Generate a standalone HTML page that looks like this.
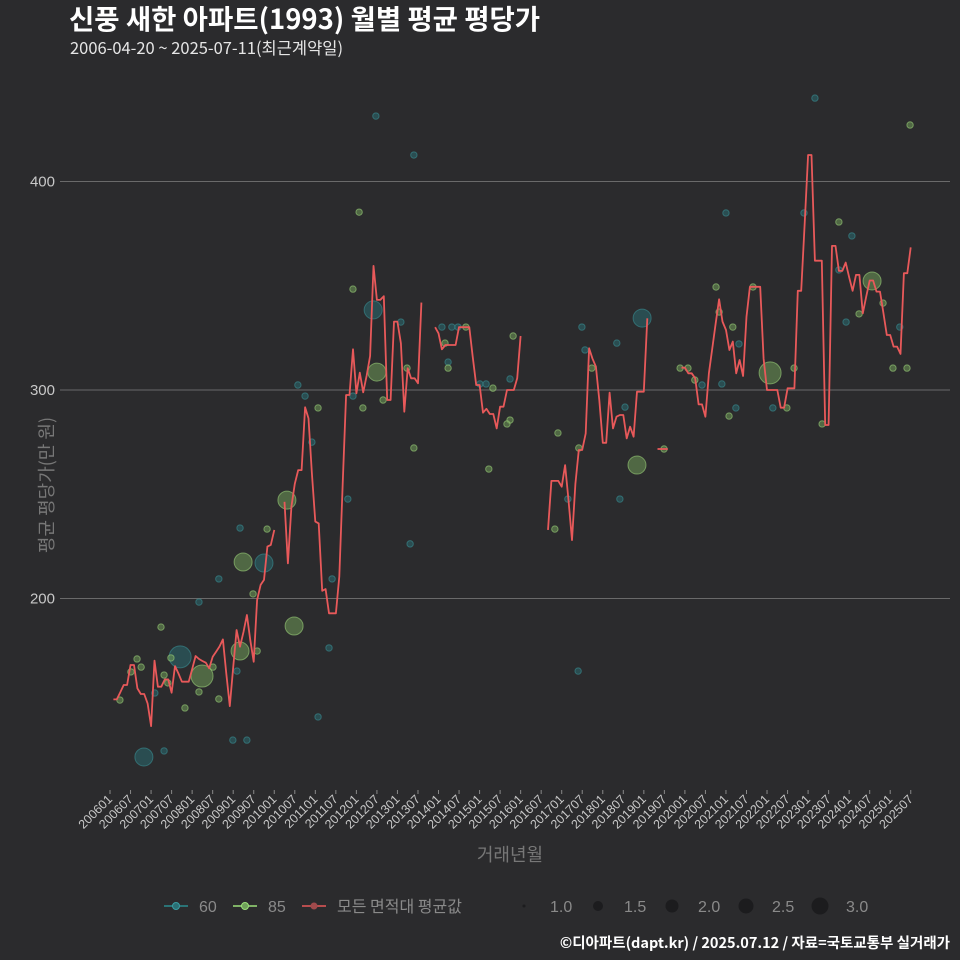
<!DOCTYPE html>
<html><head><meta charset="utf-8">
<style>
html,body{margin:0;padding:0;background:#2b2b2d;}
svg{display:block;font-family:"Liberation Sans","Noto Sans CJK KR",sans-serif;}
.kr{font-family:"Noto Sans CJK KR","Liberation Sans",sans-serif;}
#ytitle{position:absolute;left:46px;top:485px;transform:translate(-50%,-50%) rotate(-90deg);color:#777;font-size:18px;white-space:nowrap;font-family:"Noto Sans CJK KR","Liberation Sans",sans-serif;line-height:1;}
</style></head>
<body>
<div style="position:relative;width:960px;height:960px;">
<svg id="chart" width="960" height="960" viewBox="0 0 960 960" xmlns="http://www.w3.org/2000/svg">
<rect width="960" height="960" fill="#2b2b2d"/>
<text class="kr" x="69" y="29" fill="#ffffff" font-size="27.5" font-weight="bold">신풍 새한 아파트(1993) 월별 평균 평당가</text>
<text class="kr" x="70" y="54" fill="#e6e6e6" font-size="16.5">2006-04-20 ~ 2025-07-11(최근계약일)</text>
<g id="grid"></g>
<g id="yticks"></g>
<g id="xticks"></g>
<g id="points"></g>
<g id="lines"></g>
<text class="kr" x="510" y="861" text-anchor="middle" fill="#777" font-size="18">거래년월</text>
<g>
<g>
<line x1="164" y1="906" x2="188" y2="906" stroke="#2a8b8f" stroke-width="1.5"/><circle cx="176" cy="906" r="3.5" fill="#2a6f74" stroke="#3a9da2"/>
<text x="199" y="912" fill="#8a8a8a" font-size="16">60</text></g>
<g>
<line x1="233" y1="906" x2="257" y2="906" stroke="#9be07a" stroke-width="1.5"/><circle cx="245" cy="906" r="3.5" fill="#6fa05a" stroke="#9be07a"/>
<text x="268" y="912" fill="#8a8a8a" font-size="16">85</text></g>
<g>
<line x1="302" y1="906" x2="326" y2="906" stroke="#e8595a" stroke-width="1.5"/><circle cx="314" cy="906" r="3.5" fill="#a04a4c"/>
<text class="kr" x="337" y="912" fill="#8a8a8a" font-size="16">모든 면적대 평균값</text></g>
<g id="sizelegend"></g>
</g>
<text class="kr" x="950" y="948" text-anchor="end" fill="#ffffff" font-size="14.5" font-weight="bold">©디아파트(dapt.kr) / 2025.07.12 / 자료=국토교통부 실거래가</text>
</svg>
<div id="ytitle">평균 평당가(만 원)</div>
</div>
<script>
// months since 2006-01 and average price
const lineMonths = [1,2,3,4,5,6,7,8,9,10,11,12,13,14,15,16,17,18,19,20,21,22,23,24,25,26,27,28,29,30,31,32,33,34,35,36,37,38,39,40,41,42,43,44,45,46,47,48,
51,52,53,54,55,56,57,58,59,60,61,62,63,64,65,66,67,68,69,70,71,72,73,74,75,76,77,78,79,80,81,82,83,84,85,86,87,88,89,90,91,
95,96,97,98,99,100,101,102,103,104,105,106,107,108,109,110,111,112,113,114,115,116,117,118,119,120,
128,129,130,131,132,133,134,135,136,137,138,139,140,141,142,143,144,145,146,147,148,149,150,151,152,153,154,155,156,157,
160,161,162,163,
167,168,169,170,171,172,173,174,175,176,177,178,179,180,181,182,183,184,185,186,187,188,189,190,191,192,193,194,195,196,197,198,199,200,201,202,203,204,205,206,207,208,209,210,211,212,213,214,215,216,217,218,219,220,221,222,223,224,225,226,227,228,229,230,231,232,233,234];
const lineValues = [151.6,151.6,155,158.5,158.5,168.1,168.1,156.9,154.2,154.2,149.7,138.8,170.2,157.7,157.7,161.2,161.2,154.8,167.6,164.1,160.1,160.1,160.1,166,172.4,171,170,169.2,166.5,172.1,174.5,177,180.4,164,148.4,167,184.9,176.9,184,192.1,180,169.7,199.3,206.5,208.9,224.9,225.7,232.9,
246.4,216.9,244,255,261.6,261.6,291.7,286.4,260,236.9,236,203.7,204.5,192.9,192.9,192.9,210.5,255,297.6,297.6,319.5,298.4,308.3,298.9,307,316.3,359.5,343.2,343.2,345,295.2,295.2,332.8,332.8,322.4,289.6,310.4,305.6,305.6,303.2,341.9,
330.1,327.2,319.5,321.6,321.6,321.6,321.6,330.1,330.1,330.1,330.1,316,302.4,302.4,289.1,291,288.5,288.5,281.6,292,292,300,300,300,305.6,325.9,
232.9,256.4,256.4,256.4,253.6,264,247.2,228,255,271.2,271.2,279.2,320,315,311.2,295.2,274.7,274.7,298.7,281.6,287.2,288,288,276.8,282.4,277.6,299.2,299.2,299.2,334.4,
271.7,271.7,271.7,271.7,
310.7,310.7,308,308,305.6,293.1,293.1,287.2,308,320,332,343.5,332.8,328.8,319.2,323.2,308,314.4,306.7,335.2,349.5,349.5,349.5,349.5,315,300,300,300,300,291.5,291.5,300.8,300.8,300.8,347.6,347.6,380,412.7,412.7,362,362,362,283.2,283.2,369.1,369.1,357.1,357.1,361.1,354,347.6,355.2,355.2,336.8,345,352.5,352.5,347.2,347.2,337,326.4,326.4,320.8,320.8,317.3,356,356,368.4];
const p60Months = [9.9,20.5,45,76.9,155.5,54.9,57,59,69.5,64.9,64,60.8,38,31.8,26,37.1,35.9,40,15.8,13.1,77.7,85,71,97,99.9,101.7,98.8,108.1,109.9,116.9,87.7,88.8,137.9,148.1,138.8,133.8,149,150.5,136.8,180,183.8,178.8,173,182.9,193.7,202.8,206,216.8,213,215.1,230.8];
const p60Values = [124,172,217,338.4,334.5,302.4,297.1,275,247.7,209.4,176.3,143.2,233.8,209.4,198.3,165.2,132.1,132.1,126.9,154.7,431.4,332.6,297.1,330.2,330.2,330.2,313.4,302.9,302.9,305.3,226.2,412.7,330.2,322.5,319.2,247.7,247.7,291.8,165.2,384.9,322.1,302.9,302.4,291.4,291.4,384.9,440,373.9,357.6,332.6,330.2];
const p60Counts = [2,3,2,2,2,1,1,1,1,1,1,1,1,1,1,1,1,1,1,1,1,1,1,1,1,1,1,1,1,1,1,1,1,1,1,1,1,1,1,1,1,1,1,1,1,1,1,1,1,1,1];
const p85Months = [26.9,38.9,38,51.7,53.8,78,154,192.9,222.7,60.8,45.9,41.8,43,14.9,7.9,9.1,6.1,2.9,15.8,16.9,17.8,30.1,26,21.9,31.8,72.8,71,86.8,73.9,79.8,88.8,104,97.9,98.8,111.9,117.8,116.9,116,110.7,140.8,130.9,137,130,161.9,177.1,178,182,187.9,170.9,168.9,180.9,199.9,197.8,213,218.9,225.9,228.8,232.9,233.8,208.1,166.6];
const p85Values = [162.8,217.5,174.8,247.2,186.8,308.6,264,308.2,352.3,291.4,233.3,202.2,174.8,186.3,171,167.1,164.8,151.3,163.3,159.5,171.5,167.1,155.2,147.5,151.8,385.3,348.4,310.5,291.4,295.2,272.2,330.2,322.5,310.5,300.9,325.9,285.6,283.7,262.1,310.5,279.4,272.2,233.3,271.7,349.4,337.4,330.2,349.4,304.8,310.5,287.5,310.5,291.4,380.6,336.5,341.7,310.5,310.5,427.1,283.7,310.5];
const p85Counts = [3,2,2,2,2,2,2,3,2,1,1,1,1,1,1,1,1,1,1,1,1,1,1,1,1,1,1,1,1,1,1,1,1,1,1,1,1,1,1,1,1,1,1,1,1,1,1,1,1,1,1,1,1,1,1,1,1,1,1,1,1];
const yTicks = [200,300,400];
const xTickLabels = [];
for (let y=2006;y<=2025;y++){ xTickLabels.push(y+"01"); xTickLabels.push(y+"07"); }
const sizeLegend = [1.0,1.5,2.0,2.5,3.0];

const NS="http://www.w3.org/2000/svg";
const X0=110, PXM=3.422, PL=60, PR=950;
function xs(m){return X0+m*PXM;}
function ys(v){return 390-(v-300)*2.085;}
function rs(c){return c<=1?3.2:(c<=2?9:11);}
function mk(tag,attrs,parent){const e=document.createElementNS(NS,tag);for(const k in attrs)e.setAttribute(k,attrs[k]);parent.appendChild(e);return e;}

const grid=document.getElementById('grid'), yt=document.getElementById('yticks'), xt=document.getElementById('xticks');
yTicks.forEach(v=>{
  const l=mk('line',{x1:PL,x2:PR,y1:ys(v),y2:ys(v),stroke:'#6a6a6a','stroke-width':1},grid);
  
  
  const t=mk('text',{x:PL-5,y:ys(v)+5,'text-anchor':'end',fill:'#c8c8c8','font-size':15},yt);
  t.textContent=v;
  
  
});
xTickLabels.forEach((lab,i)=>{
  const yr=+lab.slice(0,4), mo=+lab.slice(4);
  const x=xs((yr-2006)*12+mo-1);
  mk('line',{x1:x,x2:x,y1:790,y2:794,stroke:'#888','stroke-width':1},xt);
  const t=mk('text',{x:x+3,y:800,'text-anchor':'end',fill:'#c8c8c8','font-size':12.5,transform:`rotate(-45 ${x+3} 800)`},xt);
  t.textContent=lab;
  
  
});

const pts=document.getElementById('points');
function drawPts(ms,vs,cs,fill,stroke,name){
  ms.forEach((m,i)=>{
    const c=mk('circle',{cx:xs(m),cy:ys(vs[i]),r:rs(cs[i]),fill:fill,'fill-opacity':0.55,stroke:stroke,'stroke-opacity':0.6,'stroke-width':1},pts);
    
    
  });
}
drawPts(p60Months,p60Values,p60Counts,'#2a6a70','#3a8f95','point-60');
drawPts(p85Months,p85Values,p85Counts,'#6f9a58','#9bd07a','point-85');

const lg=document.getElementById('lines');
let seg=[];
function flush(){ if(seg.length){ const p=mk('polyline',{points:seg.join(' '),fill:'none',stroke:'#e8595a','stroke-width':1.8,'stroke-linejoin':'round'},lg);
  
   } seg=[]; }
lineMonths.forEach((m,i)=>{
  if(i>0 && m-lineMonths[i-1]>1) flush();
  seg.push(xs(m).toFixed(1)+','+ys(lineValues[i]).toFixed(1));
});
flush();

const sl=document.getElementById('sizelegend');
const legR=[1.5,5,6.5,7.5,8.5];
sizeLegend.forEach((s,i)=>{
  const cx=524+i*74;
  const c=mk('circle',{cx:cx,cy:906,r:legR[i],fill:'#1c1c1e'},sl);
  
  
  const t=mk('text',{x:cx+26,y:912,fill:'#8a8a8a','font-size':16},sl);
  t.textContent=s.toFixed(1);
  
  
});
</script>
</body></html>
